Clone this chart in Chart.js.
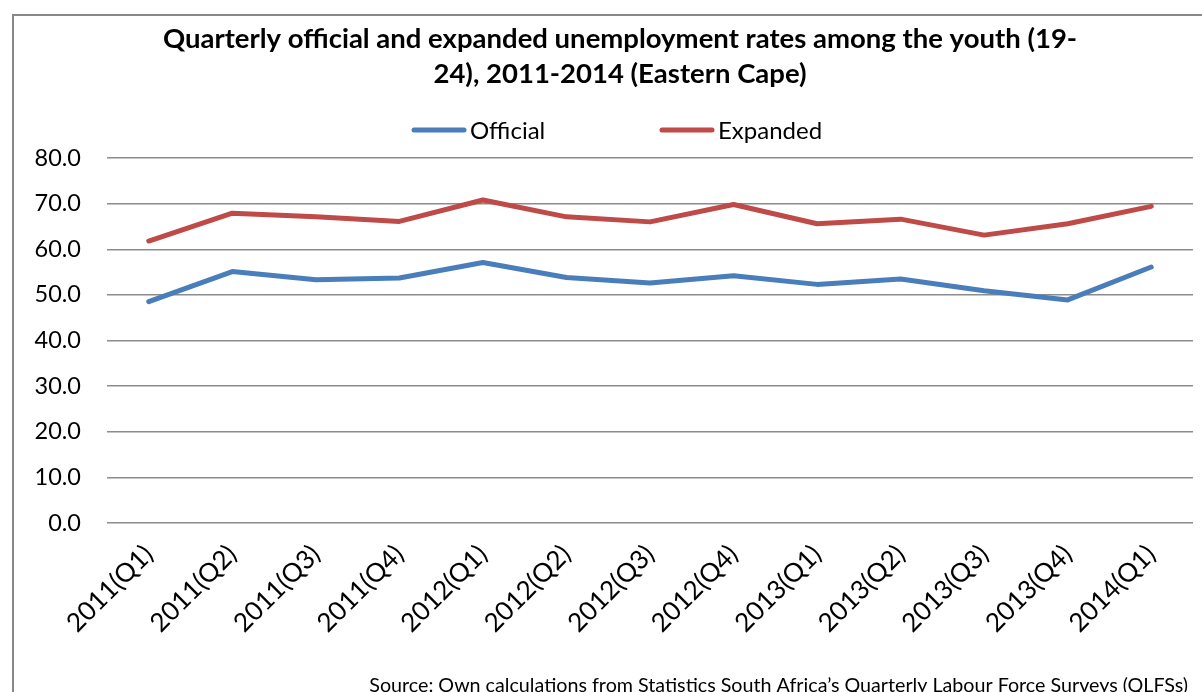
<!DOCTYPE html>
<html>
<head>
<meta charset="utf-8">
<script src="https://cdn.jsdelivr.net/npm/chart.js@4/dist/chart.umd.min.js"></script>
<style>
  html, body { margin: 0; padding: 0; background: #fff; }
  #wrap { width: 1202px; height: 692px; position: relative; }
</style>
</head>
<body>
<div id="wrap"><canvas id="myChart" width="1202" height="692"></canvas></div>
<script>
var quarters = ['2011(Q1)', '2011(Q2)', '2011(Q3)', '2011(Q4)', '2012(Q1)', '2012(Q2)', '2012(Q3)',
  '2012(Q4)', '2013(Q1)', '2013(Q2)', '2013(Q3)', '2013(Q4)', '2014(Q1)'];
var official = [48.5, 55.1, 53.3, 53.7, 57.1, 53.8, 52.6, 54.2, 52.3, 53.5, 50.9, 48.9, 56.1];
var expanded = [61.8, 67.9, 67.1, 66.1, 70.8, 67.1, 66.0, 69.8, 65.6, 66.6, 63.1, 65.6, 69.4];
var titleLines = ['Quarterly official and expanded unemployment rates among the youth (19-',
  '24), 2011-2014 (Eastern Cape)'];
var sourceNote = 'Source: Own calculations from Statistics South Africa\u2019s Quarterly Labour Force Surveys (QLFSs)';

var FONT = 'Lato, "Open Sans", sans-serif';

// frame, title, legend and source note drawn straight onto the canvas
var extras = {
  id: 'extras',
  beforeDraw: function (chart) {
    var c = chart.ctx;
    c.save();
    c.fillStyle = '#fff';
    c.fillRect(0, 0, chart.width, chart.height);
    c.strokeStyle = '#888';
    c.lineWidth = 2;
    c.strokeRect(13, 15, chart.width + 20, chart.height + 20);
    c.restore();
  },
  afterDraw: function (chart) {
    var c = chart.ctx;
    var mid = chart.width / 2;
    c.save();
    c.fillStyle = '#000';
    c.textBaseline = 'middle';

    // title
    c.font = 'bold 27.5px ' + FONT;
    c.textAlign = 'center';
    c.fillText(titleLines[0], mid + 19, 39);
    c.fillText(titleLines[1], mid + 19, 74);

    // legend
    var y = 130;
    var items = [
      { x: mid - 189, ds: chart.data.datasets[0] },
      { x: mid + 59, ds: chart.data.datasets[1] }
    ];
    c.font = '24px ' + FONT;
    c.textAlign = 'left';
    items.forEach(function (it) {
      c.strokeStyle = it.ds.borderColor;
      c.lineWidth = 5;
      c.lineCap = 'round';
      c.beginPath();
      c.moveTo(it.x + 2, y);
      c.lineTo(it.x + 52, y);
      c.stroke();
      c.fillText(it.ds.label, it.x + 58, y + 1);
    });

    // source note
    c.font = '19.7px ' + FONT;
    c.textAlign = 'right';
    c.textBaseline = 'top';
    c.fillText(sourceNote, 1188, 676);
    c.restore();
  }
};

var ctx = document.getElementById('myChart').getContext('2d');
var chart = new Chart(ctx, {
  type: 'line',
  data: {
    labels: quarters,
    datasets: [
      {
        label: 'Official',
        data: official,
        borderColor: '#4a7ebb',
        backgroundColor: '#4a7ebb',
        borderWidth: 5,
        fill: false,
      },
      {
        label: 'Expanded',
        data: expanded,
        borderColor: '#be4b48',
        backgroundColor: '#be4b48',
        borderWidth: 5,
        fill: false,
      },
    ]
  },
  options: {
    responsive: false,
    animation: false,
    layout: { padding: { left: 0, right: 9, top: 158, bottom: 0 } },
    elements: {
      point: { radius: 0, hoverRadius: 0 },
      line: { tension: 0, borderCapStyle: 'round', borderJoinStyle: 'round' }
    },
    plugins: {
      legend: { display: false },
      title: { display: false },
      tooltip: { enabled: false }
    },
    scales: {
      x: {
        offset: true,
        grid: { display: false, drawTicks: false },
        border: { display: false },
        ticks: {
          color: '#000',
          font: { family: FONT, size: 26 },
          minRotation: 45,
          maxRotation: 45,
          padding: 16,
          autoSkip: false
        },
        afterFit: function (scale) { scale.height = 169; }
      },
      y: {
        min: 0,
        max: 80,
        grid: { color: '#8c8c8c', lineWidth: 1.5, drawTicks: false },
        border: { display: false },
        ticks: {
          stepSize: 10,
          color: '#000',
          font: { family: FONT, size: 23.5 },
          padding: 26,
          callback: function (v) { return v.toFixed(1); }
        },
        afterFit: function (scale) { scale.width = 107; }
      }
    }
  },
  plugins: [extras]
});
</script>
</body>
</html>
